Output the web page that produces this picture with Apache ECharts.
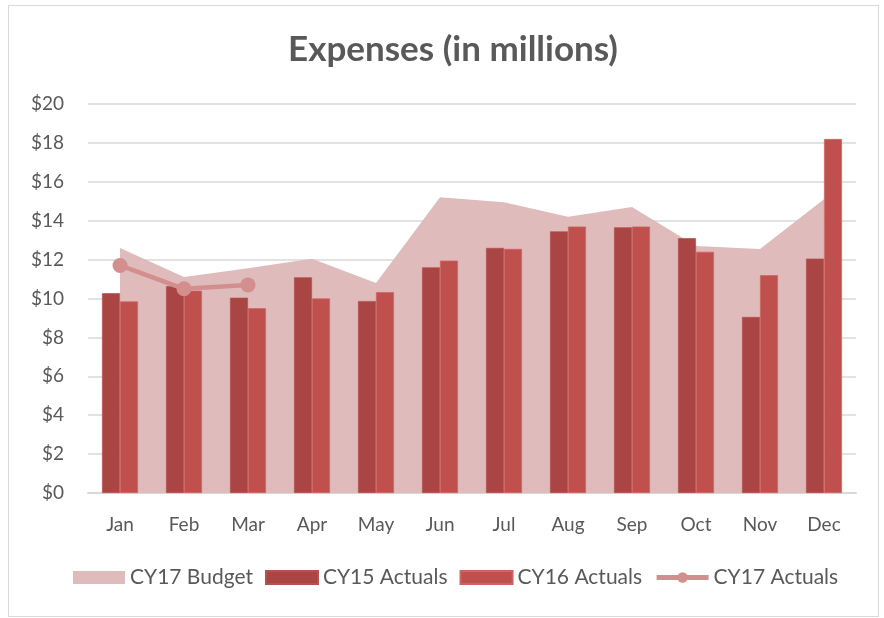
<!DOCTYPE html>
<html lang="en">
<head>
<meta charset="UTF-8">
<title>Expenses</title>
<script src="https://cdn.jsdelivr.net/npm/echarts@6/dist/echarts.min.js"></script>
<style>
  html, body { margin: 0; padding: 0; background: #fff; }
  #frame {
    position: absolute;
    left: 8px; top: 5px;
    width: 869px; height: 610px;
    border: 1px solid #d9d9d9;
  }
  #main { position: absolute; left: 0; top: 0; width: 884px; height: 618px; }
</style>
</head>
<body>
<div id="frame"></div>
<div id="main"></div>
<script>
  // months on the x axis
  const months = ["Jan", "Feb", "Mar", "Apr", "May", "Jun", "Jul", "Aug", "Sep", "Oct", "Nov", "Dec"];
  // values in $ millions
  const budget17 = [12.6, 11.1, 11.55, 12.05, 10.8, 15.2, 14.95, 14.2, 14.7, 12.7, 12.55, 15.1];
  const actuals15 = [10.27, 10.64, 10.04, 11.09, 9.87, 11.6, 12.6, 13.45, 13.66, 13.1, 9.05, 12.05];
  const actuals16 = [9.85, 10.4, 9.5, 10.0, 10.33, 11.95, 12.55, 13.7, 13.7, 12.4, 11.2, 18.2];
  const actuals17 = [11.7, 10.5, 10.7];

  const textColor = "#595959";
  const fontName = "Lato";

  var myChart = echarts.init(document.getElementById("main"));
  var option = {
    title: {
      text: "Expenses (in millions)",
      left: 448,
      top: 27,
      textAlign: "center",
      textStyle: { fontFamily: fontName, fontSize: 35, fontWeight: "bold", color: textColor }
    },
    grid: { left: 88, right: 28, top: 104, bottom: 125 },
    legend: {
      bottom: 25,
      left: 68,
      itemWidth: 52,
      itemHeight: 13,
      itemGap: 12,
      textStyle: { fontFamily: fontName, fontSize: 21, color: textColor },
      data: [
        { name: "CY17 Budget", icon: "rect" },
        { name: "CY15 Actuals", icon: "rect" },
        { name: "CY16 Actuals", icon: "rect" },
        { name: "CY17 Actuals", lineStyle: { width: 5 } }
      ]
    },
    xAxis: {
      type: "category",
      data: months,
      axisTick: { show: false },
      axisLine: { lineStyle: { color: "#d9d9d9", width: 2 } },
      axisLabel: { color: textColor, fontFamily: fontName, fontSize: 19, margin: 22 }
    },
    yAxis: {
      type: "value",
      min: 0,
      max: 20,
      interval: 2,
      axisLine: { show: false },
      axisTick: { show: false },
      splitLine: { lineStyle: { color: "#d9d9d9", width: 1.5 } },
      axisLabel: {
        color: textColor, fontFamily: fontName, fontSize: 19, margin: 24,
        formatter: function (v) { return "$" + v; }
      }
    },
    series: [
      {
        name: "CY17 Budget",
        type: "line",
        data: budget17,
        symbol: "none",
        z: 1,
        itemStyle: { color: "#e0bbbb" },
        lineStyle: { width: 0, color: "#e0bbbb" },
        areaStyle: { color: "#e0bbbb", opacity: 1 }
      },
      {
        name: "CY15 Actuals",
        type: "bar",
        data: actuals15,
        barWidth: 18,
        barGap: "0%",
        z: 2,
        itemStyle: { color: "#a94543", borderColor: "#b4524f", borderWidth: 0.7 }
      },
      {
        name: "CY16 Actuals",
        type: "bar",
        data: actuals16,
        barWidth: 18,
        barGap: "0%",
        z: 2,
        itemStyle: { color: "#c0504d", borderColor: "#cc6461", borderWidth: 0.7 }
      },
      {
        name: "CY17 Actuals",
        type: "line",
        data: actuals17,
        symbol: "circle",
        symbolSize: 15,
        z: 3,
        itemStyle: { color: "#d38e8e" },
        lineStyle: { width: 4.5, color: "#d38e8e" }
      }
    ]
  };
  option && myChart.setOption(option);
</script>
</body>
</html>
